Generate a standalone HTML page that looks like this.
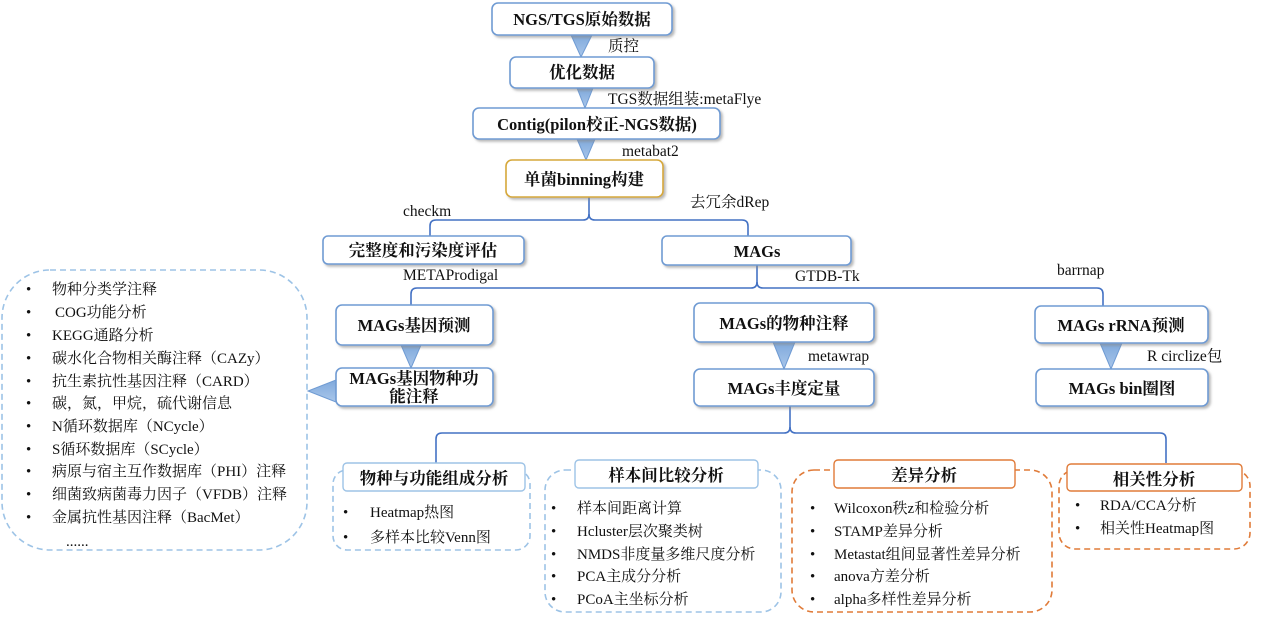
<!DOCTYPE html>
<html><head><meta charset="utf-8"><style>
body{margin:0;background:#fff;width:1266px;height:615px;overflow:hidden}
svg text{font-family:"Liberation Serif","Noto Serif CJK SC",serif;fill:#111}
.b{font-weight:bold;font-size:16.5px}
.l{font-size:15px}
.s{font-family:"Liberation Serif","Noto Sans CJK SC",sans-serif !important;font-size:15.5px}
</style></head><body>
<svg width="1266" height="615" viewBox="0 0 1266 615" xmlns="http://www.w3.org/2000/svg">
<defs>
<linearGradient id="tg" x1="0" y1="0" x2="0" y2="1"><stop offset="0" stop-color="#7fa9dc"/><stop offset="1" stop-color="#a9c6ea"/></linearGradient>
<filter id="sh" x="-10%" y="-20%" width="130%" height="150%"><feDropShadow dx="2" dy="2" stdDeviation="1.2" flood-color="#888" flood-opacity="0.6"/></filter>
</defs>
<g fill="none" stroke="#4472c4" stroke-width="1.6">
<path d="M589 197 V214 Q589 220 583 220 H436 Q430 220 430 226 V236"/>
<path d="M589 214 Q589 220 595 220 H742 Q748 220 748 226 V236"/>
<path d="M757 265 V282 Q757 288 751 288 H417 Q411 288 411 294 V305"/>
<path d="M757 282 Q757 288 763 288 H1097 Q1103 288 1103 294 V306"/>
<path d="M790 406 V427 Q790 433 784 433 H442 Q436 433 436 439 V464"/>
<path d="M790 427 Q790 433 796 433 H1160 Q1166 433 1166 439 V463"/>
</g>
<g fill="url(#tg)" stroke="#6f9bd3" stroke-width="1">
<polygon points="571,35 592,35 581,57"/>
<polygon points="577,88 593,88 585,108"/>
<polygon points="577,139 595,139 586,160"/>
<polygon points="401,345 421,345 411,368"/>
<polygon points="773,342 795,342 784,369"/>
<polygon points="1100,343 1122,343 1111,369"/>
<polygon points="336,380 336,402 308,391"/>
</g>
<g fill="#fff" stroke="#6f9bd3" stroke-width="1.6" filter="url(#sh)">
<rect x="492" y="3" width="180" height="32" rx="6"/>
<rect x="510" y="57" width="144" height="31" rx="6"/>
<rect x="473" y="108" width="247" height="31" rx="6"/>
<rect x="506" y="160" width="157" height="37" rx="6" stroke="#d6a83a"/>
<rect x="323" y="236" width="201" height="28" rx="5"/>
<rect x="662" y="236" width="189" height="29" rx="5"/>
<rect x="336" y="305" width="157" height="40" rx="6"/>
<rect x="336" y="368" width="157" height="38" rx="6"/>
<rect x="694" y="303" width="180" height="39" rx="6"/>
<rect x="694" y="369" width="180" height="37" rx="6"/>
<rect x="1035" y="306" width="173" height="37" rx="6"/>
<rect x="1036" y="369" width="172" height="37" rx="6"/>
</g>
<g fill="none" stroke-width="1.6" stroke-dasharray="6,4">
<rect x="2" y="270" width="305" height="280" rx="48" stroke="#9dc3e6"/>
<rect x="333" y="470" width="197" height="80" rx="14" stroke="#9dc3e6"/>
<rect x="545" y="470" width="236" height="142" rx="20" stroke="#9dc3e6"/>
<rect x="792" y="470" width="260" height="142" rx="22" stroke="#e07b39"/>
<rect x="1059" y="470" width="191" height="79" rx="16" stroke="#e07b39"/>
</g>
<g fill="#fff" stroke-width="1.4">
<rect x="343" y="463" width="182" height="28" rx="4" stroke="#9dc3e6"/>
<rect x="575" y="460" width="183" height="28" rx="4" stroke="#9dc3e6"/>
<rect x="834" y="460" width="181" height="28" rx="4" stroke="#e07b39"/>
<rect x="1067" y="464" width="175" height="27" rx="4" stroke="#e07b39"/>
</g>
<g class="b" text-anchor="middle">
<text x="582" y="25">NGS/TGS原始数据</text>
<text x="582" y="78">优化数据</text>
<text x="597" y="130">Contig(pilon校正-NGS数据)</text>
<text x="584" y="185">单菌binning构建</text>
<text x="423" y="256">完整度和污染度评估</text>
<text x="757" y="257">MAGs</text>
<text x="414" y="331">MAGs基因预测</text>
<text x="414" y="384">MAGs基因物种功</text>
<text x="414" y="402">能注释</text>
<text x="784" y="329">MAGs的物种注释</text>
<text x="784" y="394">MAGs丰度定量</text>
<text x="1121" y="331">MAGs rRNA预测</text>
<text x="1122" y="394">MAGs bin圈图</text>
<text x="434" y="484">物种与功能组成分析</text>
<text x="666" y="481">样本间比较分析</text>
<text x="924" y="481">差异分析</text>
<text x="1154" y="485">相关性分析</text>
</g>
<g class="s">
<text x="608" y="51">质控</text>
<text x="608" y="104">TGS数据组装:metaFlye</text>
<text x="622" y="156">metabat2</text>
<text x="403" y="216">checkm</text>
<text x="690" y="207">去冗余dRep</text>
<text x="403" y="280">METAProdigal</text>
<text x="795" y="281">GTDB-Tk</text>
<text x="1057" y="275">barrnap</text>
<text x="808" y="361">metawrap</text>
<text x="1147" y="361">R circlize包</text>
</g>
<g class="l">
<text x="26" y="294">•</text><text x="52" y="294">物种分类学注释</text>
<text x="26" y="317">•</text><text x="55" y="317">COG功能分析</text>
<text x="26" y="340">•</text><text x="52" y="340">KEGG通路分析</text>
<text x="26" y="363">•</text><text x="52" y="363">碳水化合物相关酶注释（CAZy）</text>
<text x="26" y="386">•</text><text x="52" y="386">抗生素抗性基因注释（CARD）</text>
<text x="26" y="408">•</text><text x="52" y="408">碳，氮，甲烷，硫代谢信息</text>
<text x="26" y="431">•</text><text x="52" y="431">N循环数据库（NCycle）</text>
<text x="26" y="454">•</text><text x="52" y="454">S循环数据库（SCycle）</text>
<text x="26" y="476">•</text><text x="52" y="476">病原与宿主互作数据库（PHI）注释</text>
<text x="26" y="499">•</text><text x="52" y="499">细菌致病菌毒力因子（VFDB）注释</text>
<text x="26" y="522">•</text><text x="52" y="522">金属抗性基因注释（BacMet）</text>
<text x="66" y="546">......</text>
<text x="343" y="517">•</text><text x="370" y="517">Heatmap热图</text>
<text x="343" y="542">•</text><text x="370" y="542">多样本比较Venn图</text>
<text x="551" y="513">•</text><text x="577" y="513">样本间距离计算</text>
<text x="551" y="536">•</text><text x="577" y="536">Hcluster层次聚类树</text>
<text x="551" y="559">•</text><text x="577" y="559">NMDS非度量多维尺度分析</text>
<text x="551" y="581">•</text><text x="577" y="581">PCA主成分分析</text>
<text x="551" y="604">•</text><text x="577" y="604">PCoA主坐标分析</text>
<text x="810" y="513">•</text><text x="834" y="513">Wilcoxon秩z和检验分析</text>
<text x="810" y="536">•</text><text x="834" y="536">STAMP差异分析</text>
<text x="810" y="559">•</text><text x="834" y="559">Metastat组间显著性差异分析</text>
<text x="810" y="581">•</text><text x="834" y="581">anova方差分析</text>
<text x="810" y="604">•</text><text x="834" y="604">alpha多样性差异分析</text>
<text x="1075" y="510">•</text><text x="1100" y="510">RDA/CCA分析</text>
<text x="1075" y="533">•</text><text x="1100" y="533">相关性Heatmap图</text>
</g>
</svg>
</body></html>
